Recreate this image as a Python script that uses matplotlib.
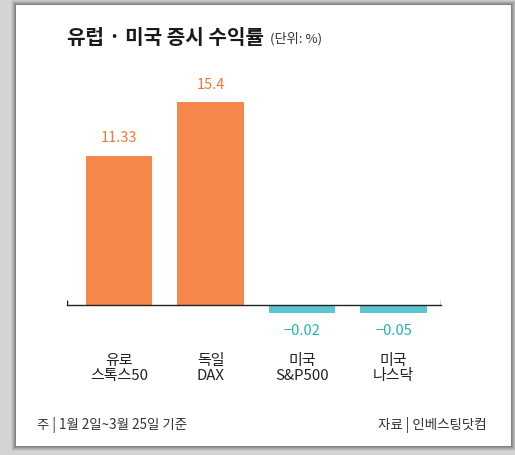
"""Europe / US stock market returns bar chart (Korean news graphic)."""

import matplotlib.pyplot as plt
from matplotlib.patches import Rectangle

plt.rcParams["font.family"] = ["Noto Sans CJK KR", "DejaVu Sans"]

categories = ["유로\n스톡스50", "독일\nDAX", "미국\nS&P500", "미국\n나스닥"]
returns = [11.33, 15.4, -0.02, -0.05]
value_labels = ["11.33", "15.4", "\u22120.02", "\u22120.05"]

title = "유럽 · 미국 증시 수익률"
unit = "(단위: %)"
note = "주 | 1월 2일~3월 25일 기준"
source = "자료 | 인베스팅닷컴"

ORANGE = "#f5874a"
ORANGE_TXT = "#f07a38"
TEAL = "#5cc6d0"
TEAL_TXT = "#22b4b4"
NEG_DEPTH = 0.6  # negative bars are drawn at a fixed visible depth

W, H = 515, 455
fig = plt.figure(figsize=(W / 100, H / 100), dpi=100, facecolor="#d4d4d4")


def px(x, y):
    """pixel (top-left origin) -> figure fraction"""
    return x / W, 1 - y / H


# card with a soft shadow
for i, a in enumerate([0.05, 0.07, 0.09, 0.11, 0.13]):
    d = 5 - i
    x0, y0 = px(16 - d, 446 + d)
    fig.patches.append(Rectangle((x0, y0), (495 + 2 * d) / W, (441 + 2 * d) / H,
                                 transform=fig.transFigure, color="black", alpha=a,
                                 lw=0, zorder=-10))
x0, y0 = px(16, 446)
fig.patches.append(Rectangle((x0, y0), 495 / W, 441 / H, transform=fig.transFigure,
                             color="white", lw=0, zorder=-9))

ax = fig.add_axes([67 / W, 125 / H, 374 / W, 250 / H])
ax.set_axis_off()
ax.set_xlim(-0.57, 3.52)
ax.set_ylim(-1.89, 17.05)

xs = list(range(len(categories)))
heights = [v if v >= 0 else -NEG_DEPTH for v in returns]
colors = [ORANGE if v >= 0 else TEAL for v in returns]
ax.bar(xs, heights, width=0.73, color=colors, zorder=2)

# baseline with end ticks
ax.plot([-0.57, 3.52], [0, 0], color="#222222", lw=1, zorder=3, clip_on=False)
ax.vlines([-0.565, 3.515], 0, 0.4, color="#222222", lw=1, zorder=3)

for x, v, h, lab in zip(xs, returns, heights, value_labels):
    if v >= 0:
        ax.text(x, h + 1.3, lab, ha="center", va="center", fontsize=10.5,
                color=ORANGE_TXT)
    else:
        ax.text(x, h - 1.4, lab, ha="center", va="center", fontsize=10.5,
                color=TEAL_TXT)

for x, c in zip(xs, categories):
    ax.annotate(c, xy=(x, 0), xycoords="data", xytext=(0, -49),
                textcoords="offset pixels", ha="center", va="top",
                fontsize=10.8, color="#222222", linespacing=1.1,
                annotation_clip=False)

tx, ty = px(67, 38)
fig.text(tx, ty, title, fontsize=14.5, fontweight="bold", color="#1a1a1a",
         ha="left", va="center")
ux, uy = px(270, 39)
fig.text(ux, uy, unit, fontsize=9.5, color="#333333", ha="left", va="center")

nx, ny = px(37, 425)
fig.text(nx, ny, note, fontsize=9.7, color="#333333", ha="left", va="center")
sx, sy = px(487, 425)
fig.text(sx, sy, source, fontsize=9.7, color="#333333", ha="right", va="center")

fig.savefig("out.png", dpi=100, facecolor=fig.get_facecolor())
